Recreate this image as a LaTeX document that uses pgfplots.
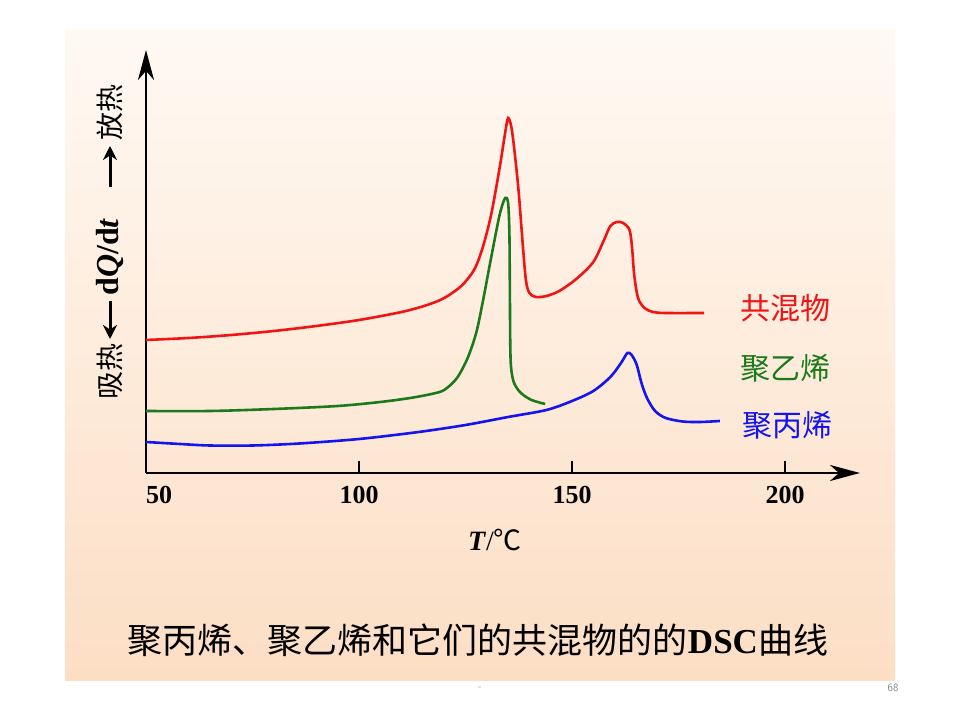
\documentclass[border=0pt]{standalone}
\usepackage{pgfplots}
\pgfplotsset{compat=1.18}
\usepackage{fontspec}
\setmainfont{Liberation Serif}
\newfontfamily\cjk{Noto Sans CJK SC}
\usetikzlibrary{arrows.meta}
\definecolor{cred}{RGB}{240,20,20}
\definecolor{cgreen}{RGB}{28,122,28}
\definecolor{cblue}{RGB}{20,20,240}
\definecolor{bgtop}{RGB}{255,249,243}
\definecolor{bgbot}{RGB}{252,222,196}
\begin{document}
\begin{tikzpicture}[x=1pt,y=1pt]
\fill[white] (0,0) rectangle (960,720);
\shade[top color=bgtop, bottom color=bgbot] (65,40) rectangle (895,690);
\begin{axis}[
  at={(146pt,247pt)}, anchor=south west,
  scale only axis, width=714pt, height=423pt,
  xmin=50, xmax=217.6, ymin=0, ymax=423,
  axis x line=bottom, axis y line=left,
  axis line style={line width=2.8pt, black, -{Stealth[length=30pt,width=16pt,inset=9pt]}},
  xtick={50,100,150,200},
  xticklabels={\hspace*{26pt}50,100,150,200},
  xticklabel style={font=\bfseries\fontsize{26}{26}\selectfont, yshift=-10pt},
  ytick=\empty,
  xtick align=inside, xtick pos=bottom,
  major tick length=12pt,
  xtick style={draw=black, line width=2.2pt},
  clip=false,
]
\addplot[cred, line width=2.6pt, smooth, tension=0.5] coordinates {
(50,133) (60,135) (70,138) (80,142) (90,147) (100,153) (110,161) (116,168) (120,175)
(124,187) (127,203) (129,225) (131,258) (133,305) (134.3,340) (135,355) (135.8,345)
(136.6,318) (137.5,280) (138.5,225) (139.2,192) (140,180) (141.5,176) (144,177)
(147,182) (151,194) (155,211) (157.5,233) (159,247) (160.5,251) (162,250) (163.5,243)
(164.1,225) (164.6,198) (165.5,175) (167,165) (169,161) (172,160) (181,160)
};
\addplot[cgreen, line width=2.6pt, smooth, tension=0.5] coordinates {
(50,62) (65,62) (80,64) (95,67) (105,71) (112,75) (117,79) (120,83) (123,95)
(125.5,115) (127.5,140) (129,170) (131,215) (133,258) (134.3,275) (135,270)
(135.3,240) (135.4,190) (135.5,130) (135.7,105) (136.4,90) (138,80) (140.5,73) (143.7,69)
};
\addplot[cblue, line width=2.6pt, smooth, tension=0.5] coordinates {
(50,31) (58,29) (65,27.5) (75,27.5) (86,29.5) (100,34) (114,41) (125,48) (135,56)
(144,63) (150,72) (155,82) (159,96) (161.5,110) (163,120) (164,118) (165.2,108)
(166.3,90) (167.6,75) (169.5,62) (172,55) (176,51.5) (180,51) (184.7,52)
};
\node[cred, font=\cjk\fontsize{30}{30}\selectfont] at (axis cs:200,165) {共混物};
\node[cgreen, font=\cjk\fontsize{30}{30}\selectfont] at (axis cs:200,105) {聚乙烯};
\node[cblue, font=\cjk\fontsize{30}{30}\selectfont] at (axis cs:200.5,48) {聚丙烯};
\node[font=\fontsize{28}{28}\selectfont] at (axis cs:131.9,-67) {\textbf{\textit{T}}/{\cjk ℃}};
\end{axis}
% y label
\node[rotate=90, font=\cjk\fontsize{28}{28}\selectfont] at (110,607) {放热};
\draw[line width=3pt, -{Stealth[length=14pt,width=14pt]}] (110,533) -- (110,574);
\node[rotate=90, font=\bfseries\fontsize{32}{32}\selectfont] at (110,463) {d\textit{Q}/d\textit{t}};
\draw[line width=3pt, -{Stealth[length=14pt,width=14pt]}] (110,419) -- (110,381);
\node[rotate=90, font=\cjk\fontsize{28}{28}\selectfont] at (110,348) {吸热};
% caption
\node[font=\fontsize{35}{35}\selectfont] at (478,80) {{\cjk 聚丙烯、聚乙烯和它们的共混物的的}\textbf{DSC}{\cjk 曲线}};
\node[gray, font=\sffamily\fontsize{11}{11}\selectfont] at (893,32) {68};
\node[gray, font=\sffamily\fontsize{9}{9}\selectfont] at (480,32) {-};
\end{tikzpicture}
\end{document}
